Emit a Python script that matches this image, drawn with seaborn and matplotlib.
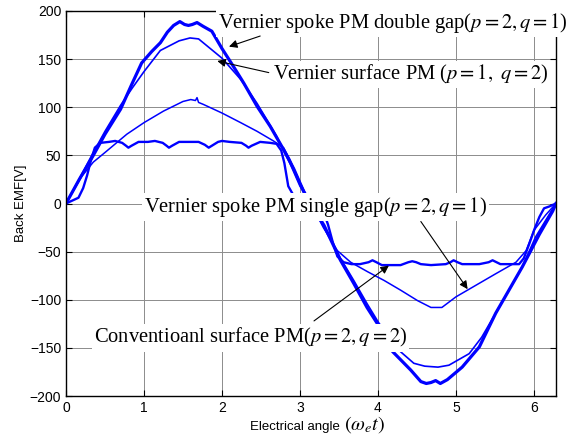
import numpy as np
import pandas as pd
import matplotlib
matplotlib.use("Agg")
import matplotlib.pyplot as plt
import seaborn as sns

# values (x in rad, y in V)
dg_x = [0, 0.17, 0.35, 0.5, 0.7, 0.85, 0.97, 1.1, 1.21, 1.3, 1.38, 1.46, 1.52, 1.57, 1.62, 1.68,
        1.76, 1.87, 2.0, 2.15, 2.28, 2.45, 2.62, 2.79, 2.92, 3.05, 3.14,
        3.31, 3.52, 3.69, 3.86, 4.01, 4.19, 4.42, 4.55, 4.62, 4.68, 4.74, 4.8, 4.89, 5.08, 5.3,
        5.51, 5.68, 5.85, 6.07, 6.24, 6.283]
dg_y = [0, 25, 50, 72, 98, 125, 146, 158, 167, 178, 185, 189, 186, 185, 186, 188,
        184, 179, 161, 142, 125, 101, 80, 56, 36, 12, 0,
        -23, -59, -83, -108, -127, -154, -173, -185, -187, -186, -184, -187, -183, -170, -149,
        -114, -90, -66, -32, -8, 0]

sf_x = [0, 0.2, 0.35, 0.5, 0.7, 0.85, 1.0, 1.21, 1.45, 1.59, 1.7, 1.85, 2.0, 2.24, 2.45, 2.7,
        2.87, 3.0, 3.14,
        3.31, 3.52, 3.69, 3.86, 4.01, 4.29, 4.46, 4.6, 4.77, 4.91, 5.17, 5.33, 5.51, 5.68, 5.85,
        6.02, 6.2, 6.283]
sf_y = [0, 30, 53, 75, 102, 120, 137, 159, 169, 172, 171, 161, 151, 129, 104, 70,
        42, 18, 0,
        -25, -57, -80, -104, -124, -154, -166, -169, -170, -168, -156, -139, -114, -90, -66,
        -35, -11, 0]

sg_x = [0, 0.1, 0.2, 0.35, 0.5, 0.78, 1.0, 1.25, 1.5, 1.6, 1.66, 1.68, 1.7, 1.76, 2.0, 2.24,
        2.45, 2.66, 2.79, 2.87, 3.0, 3.14,
        3.3, 3.48, 3.65, 3.87, 4.08, 4.29, 4.51, 4.68, 4.82, 5.0, 5.17, 5.51, 5.77, 5.9, 6.0,
        6.15, 6.283]
sg_y = [0, 14, 28, 43, 53, 72, 84, 96, 106, 108, 107, 110, 105, 103, 94, 84,
        75, 65, 58, 46, 22, 0,
        -25, -49, -61, -71, -80, -90, -101, -108, -108, -97, -89, -73, -61, -49, -28,
        -12, 0]

cv_x = [0, 0.08, 0.16, 0.22, 0.27, 0.32, 0.37, 0.44, 0.55, 0.63, 0.72, 0.77, 0.80, 0.84, 0.93,
        1.05, 1.14, 1.24, 1.29, 1.32, 1.36, 1.45, 1.57, 1.70, 1.78, 1.83, 1.87, 1.95, 2.0, 2.1,
        2.25, 2.31, 2.34, 2.38, 2.49, 2.62, 2.70, 2.76, 2.80, 2.85, 2.92, 2.98, 3.06, 3.14,
        3.22, 3.3, 3.36, 3.42, 3.48, 3.56, 3.66, 3.77, 3.88, 3.93, 3.98, 4.05, 4.12, 4.29, 4.39,
        4.44, 4.49, 4.55, 4.68, 4.87, 4.93, 4.97, 5.02, 5.08, 5.3, 5.42, 5.47, 5.52, 5.57, 5.81,
        5.87, 5.94, 6.01, 6.07, 6.13, 6.2, 6.283]
cv_y = [0, 3, 6, 16, 29, 45, 58, 63, 64, 65, 63, 60, 58, 60, 64,
        64, 65, 63, 60, 58, 60, 64, 64, 64, 61, 58, 60, 64, 65, 64,
        63, 60, 58, 60, 64, 63, 62, 55, 42, 18, 8, 5, 3, 0,
        -4, -8, -22, -40, -55, -61, -63, -63, -61, -59, -61, -64, -64, -64, -61,
        -60, -61, -63, -64, -63, -61, -59, -61, -63, -63, -61, -59, -61, -63, -63,
        -57, -42, -26, -14, -5, -3, 0]

x_ticks = [0, 1, 2, 3, 4, 5, 6]
y_ticks = [-200, -150, -100, -50, 0, 50, 100, 150, 200]

plt.rcParams['font.family'] = ['Liberation Sans', 'DejaVu Sans']
plt.rcParams['mathtext.fontset'] = 'stix'

fig = plt.figure(figsize=(5.68, 4.42), dpi=100)
ax = fig.add_axes([66 / 568, 1 - 396 / 442, 490 / 568, 385 / 442])

curves = [(dg_x, dg_y, 2.3), (sf_x, sf_y, 1.2), (sg_x, sg_y, 1.1), (cv_x, cv_y, 1.7)]
for cx, cy, lw in curves:
    sns.lineplot(x=cx, y=cy, ax=ax, color='#0000ff', lw=lw, estimator=None)

ax.set_xlim(0, 2 * np.pi)
ax.set_ylim(-200, 200)
ax.set_xticks(x_ticks)
ax.set_yticks(y_ticks)
ax.grid(True, color='0.55', lw=0.7)
ax.set_axisbelow(True)
ax.tick_params(direction='in', top=True, right=True, length=4, width=0.8, labelsize=10)
for s in ax.spines.values():
    s.set_linewidth(1.0)

# x label: sans text plus larger math part, as in the original figure
fig.text(250 / 568, 1 - 430 / 442, "Electrical angle", fontsize=9.5, va='baseline')
fig.text(344 / 568, 1 - 430 / 442, r"$(\omega_e t)$", fontsize=14.5, va='baseline')
ax.set_ylabel("Back EMF[V]", fontsize=9.5, labelpad=2)

serif = ['Liberation Serif', 'DejaVu Serif']
box = dict(facecolor='white', edgecolor='none', pad=1.5)
labels = [
    ("Vernier spoke PM double gap($p=2,q=1$)", 1.954, 188),
    ("Vernier surface PM ($p=1,\\ q=2$)", 2.66, 134),
    ("Vernier spoke PM single gap($p=2,q=1$)", 1.0, -3.6),
    ("Conventioanl surface PM($p=2,q=2$)", 0.36, -139.7),
]
for txt, tx, ty in labels:
    ax.text(tx, ty, txt, family=serif, fontsize=14.8, ha='left', va='center',
            bbox=box, zorder=5)

arrows = [((2.09, 163), (2.49, 174)), ((1.94, 148), (2.60, 136)),
          ((5.15, -89), (4.55, -18.7)), ((4.14, -64.5), (3.18, -122))]
for tip, tail in arrows:
    ax.annotate('', xy=tip, xytext=tail, zorder=6,
                arrowprops=dict(arrowstyle='-|>', color='black', lw=0.8,
                                mutation_scale=12, shrinkA=0, shrinkB=0))

fig.savefig("out.png", dpi=100)
